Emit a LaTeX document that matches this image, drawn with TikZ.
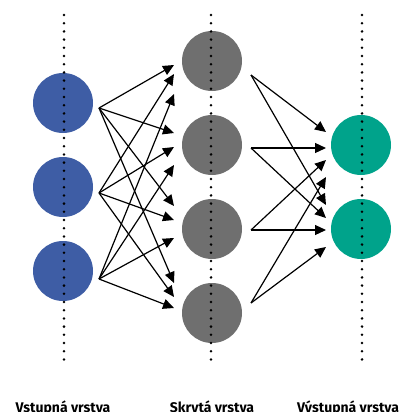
\documentclass[tikz,border=0pt]{standalone}
\usepackage{fontspec}
\setmainfont{Fira Sans}
\usetikzlibrary{arrows.meta,calc}
\definecolor{inblue}{HTML}{3E5DA5}
\definecolor{hidgray}{HTML}{6F6F6F}
\definecolor{outteal}{HTML}{00A38B}
\tikzset{
  neuron/.style={circle,minimum size=60pt,inner sep=0pt,draw=none},
  inneuron/.style={neuron,fill=inblue},
  hidneuron/.style={neuron,fill=hidgray},
  outneuron/.style={neuron,fill=outteal},
  axis/.style={line width=2.8pt,line cap=round,dash pattern=on 0pt off 8.2pt},
  conn/.style={line width=1.2pt,-{Triangle[length=11pt,width=10pt]}},
  layerlabel/.style={anchor=base,inner sep=0pt,font=\fontsize{14}{16}\selectfont\bfseries}
}
\begin{document}
\begin{tikzpicture}[x=1pt,y=-1pt]
\useasboundingbox (0,0) rectangle (407,412);
% neurons
\node[inneuron] (i1) at (63,103) {};
\node[inneuron] (i2) at (63,187) {};
\node[inneuron] (i3) at (63,271) {};
\node[hidneuron] (h1) at (212,61) {};
\node[hidneuron] (h2) at (212,145) {};
\node[hidneuron] (h3) at (212,229) {};
\node[hidneuron] (h4) at (212,313) {};
\node[outneuron] (o1) at (361,145) {};
\node[outneuron] (o2) at (361,229) {};
% dotted axes
\coordinate (ta) at (64,15);  \coordinate (ba) at (64,360);
\coordinate (tb) at (211,15); \coordinate (bb) at (211,360);
\coordinate (tc) at (362,15); \coordinate (bc) at (362,360);
\draw[axis] (ta) -- (ba);
\draw[axis] (tb) -- (bb);
\draw[axis] (tc) -- (bc);
% start points of input connectors
\coordinate (si1) at ($(i1)+(36,5)$);
\coordinate (si2) at ($(i2)+(36,6)$);
\coordinate (si3) at ($(i3)+(36,8)$);
% end points at hidden layer
\coordinate (e11) at (174,65);  \coordinate (e21) at (174,74);  \coordinate (e31) at (174,94);
\coordinate (e12) at (174,133); \coordinate (e22) at (174,147); \coordinate (e32) at (174,165);
\coordinate (e13) at (174,206); \coordinate (e23) at (174,220); \coordinate (e33) at (174,238);
\coordinate (e14) at (174,283); \coordinate (e24) at (174,297); \coordinate (e34) at (174,308);
\foreach \a in {1,2,3}{
  \foreach \b in {1,2,3,4}{
    \draw[conn] (si\a) -- (e\a\b);
  }
}
% start points of hidden connectors
\coordinate (sh1) at ($(h1)+(39,14)$);
\coordinate (sh2) at ($(h2)+(39,3)$);
\coordinate (sh3) at ($(h3)+(39,1)$);
\coordinate (sh4) at ($(h4)+(39,-10)$);
% end points at output layer
\coordinate (f11) at (326,132); \coordinate (f21) at (326,148); \coordinate (f31) at (326,160); \coordinate (f41) at (326,177);
\coordinate (f12) at (326,205); \coordinate (f22) at (326,218); \coordinate (f32) at (326,230); \coordinate (f42) at (326,247);
\foreach \a in {1,2,3,4}{
  \foreach \b in {1,2}{
    \draw[conn] (sh\a) -- (f\a\b);
  }
}
% labels
\node[layerlabel] (l1) at (63,412) {Vstupná vrstva};
\node[layerlabel] (l2) at (212,412) {Skrytá vrstva};
\node[layerlabel] (l3) at (348,412) {Výstupná vrstva};
\end{tikzpicture}
\end{document}
